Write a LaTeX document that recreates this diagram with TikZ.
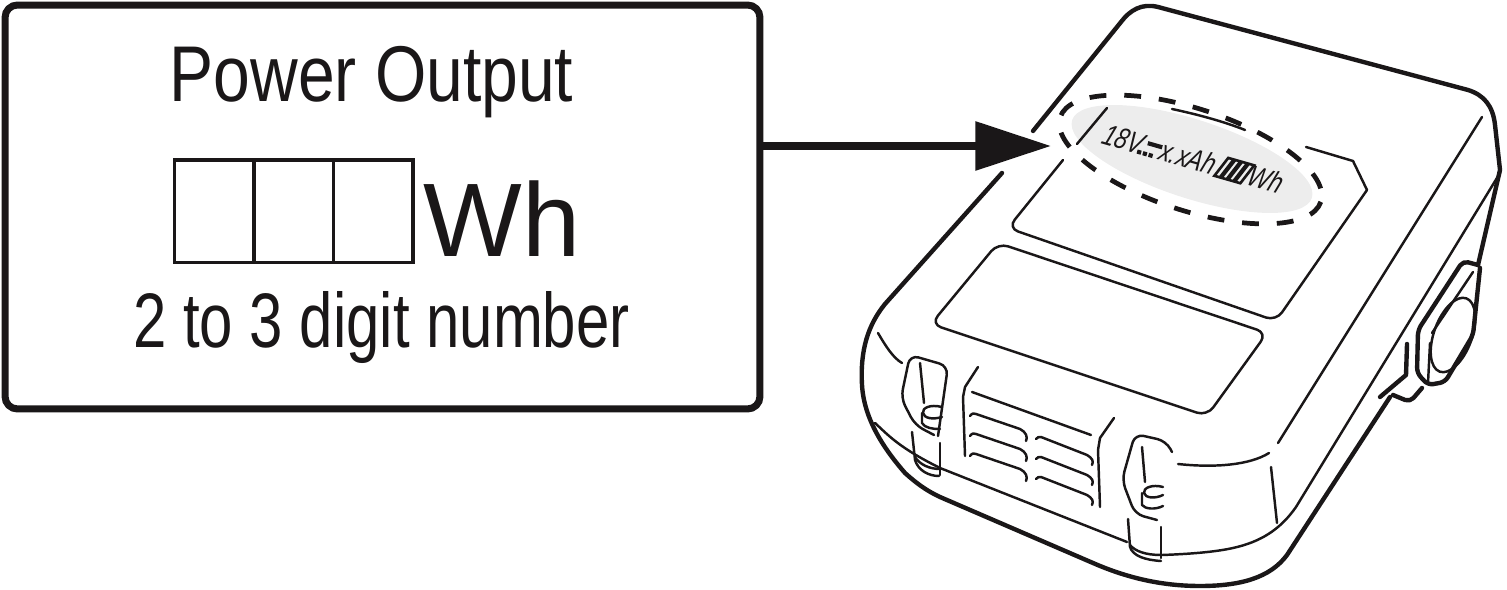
\documentclass[tikz,border=0pt]{standalone}
\usepackage{fontspec}
\setmainfont{Liberation Sans}
\newfontfamily\powerfont[FakeStretch=0.835]{Liberation Sans}
\newfontfamily\digitfont[FakeStretch=0.775]{Liberation Sans}
\newfontfamily\ratingfont[FakeStretch=0.76]{Liberation Sans}
\usetikzlibrary{arrows.meta}
\definecolor{inkblack}{HTML}{1A1718}
\tikzset{
	batteryedge/.style={line width=2.5pt, line join=round, line cap=round},
	batteryline/.style={line width=1.4pt, line join=round, line cap=round},
	ratingtext/.style={anchor=base west, inner sep=0pt, xslant=0.12, transform shape, font=\fontsize{17}{17}\ratingfont\itshape},
}
\begin{document}
\begin{tikzpicture}[x=0.02cm, y=-0.02cm, color=inkblack]
	\useasboundingbox (0, 0) rectangle (1507, 590);

	%%%%% LABEL BOX %%%%%
	\node[draw, line width=4pt, rounded corners=7pt, minimum width=15.1cm, minimum height=8.08cm, inner sep=0pt] (outputbox) at (382.5, 207) {};
	\node[font=\fontsize{45}{45}\powerfont, inner sep=0pt, anchor=base] (powertitle) at (371.5, 102) {Power Output};
	\foreach \cellx/\cellname in {173/cella, 252.5/cellb, 332/cellc}
		\node[draw, line width=1.8pt, minimum width=1.59cm, minimum height=2.05cm, inner sep=0pt, anchor=north west] (\cellname) at (\cellx, 158.5) {};
	\node[font=\fontsize{59.5}{59.5}\selectfont, inner sep=0pt, anchor=base west] (whunit) at (423, 257) {Wh};
	\node[font=\fontsize{44}{44}\digitfont, inner sep=0pt, anchor=base] (digitnote) at (381.5, 348) {2 to 3 digit number};

	%%%%% MARKING OVAL %%%%%
	\fill[black!7, rotate around={-18:(1192, 159)}] (1192, 159) ellipse [x radius=126, y radius=39.3];
	\draw[line width=2.7pt, dash pattern=on 9.6pt off 10.2pt, rotate around={-18:(1190.5, 159.5)}] (1190.5, 159.5) ellipse [x radius=137, y radius=51];

	%%%%% CASE %%%%%
	\draw[batteryedge] (1033, 131) -- (1121, 22) .. controls (1130, 10) and (1142, 3) .. (1158, 7) -- (1468, 90) .. controls (1484, 95) and (1493, 106) .. (1495, 125) -- (1500, 170) -- (1478, 265);
	\draw[batteryedge] (1002, 173) -- (885, 304) .. controls (868, 325) and (860, 350) .. (862, 385) .. controls (864, 420) and (885, 450) .. (905, 473) .. controls (915, 482) and (925, 490) .. (940, 497) -- (1093, 563) .. controls (1125, 577) and (1160, 586) .. (1200, 586) .. controls (1240, 586) and (1270, 578) .. (1287, 555) -- (1390, 397);

	%%%%% PANELS %%%%%
	\draw[batteryline] (1107, 108) -- (1077, 144);
	\draw[batteryline, rounded corners=6pt] (1063, 160) -- (1008, 228) -- (1276, 321) -- (1367, 190);
	\draw[batteryline] (1367, 190) -- (1353, 161) -- (1306, 147);
	\draw[batteryline] (1172, 109) .. controls (1200, 115) and (1225, 122) .. (1245, 130);
	\draw[batteryline, rounded corners=6pt] (998, 243) -- (931, 324) -- (1207, 416) -- (1267, 333) -- cycle;
	\draw[batteryline] (1482, 117) -- (1278, 443);
	\draw[batteryline] (1500, 173) -- (1296, 507) .. controls (1280, 530) and (1260, 542) .. (1233, 548) .. controls (1215, 552) and (1190, 554) .. (1162, 555);
	\draw[batteryline] (1178, 464) .. controls (1215, 468) and (1250, 465) .. (1269, 453);
	\draw[batteryline] (1271, 467) -- (1277, 523);
	\draw[batteryline] (875, 423) .. controls (890, 437) and (900, 448) .. (940, 468) -- (1127, 542);

	%%%%% SIDE KNOB %%%%%
	\draw[batteryedge, rounded corners=3pt] (1478, 265) -- (1463, 261) -- (1418, 330) -- (1417, 373) -- (1428, 385) -- (1445, 382) -- (1473, 335) -- (1480, 268);
	\draw[batteryline, rotate around={70:(1453, 335)}] (1453, 335) ellipse [x radius=39, y radius=19];
	\draw[batteryline] (1473, 272) -- (1432, 333);
	\draw[batteryline] (1430, 343) -- (1428, 383);
	\draw[batteryedge] (1407, 344) -- (1406, 375) -- (1380, 397);
	\draw[batteryedge, rounded corners=3pt] (1393, 395) -- (1410, 402) -- (1422, 388);

	%%%%% LEFT LATCH %%%%%
	\draw[batteryline] (878, 333) .. controls (885, 345) and (893, 358) .. (902, 363);
	\draw[batteryline, rounded corners=5pt] (934, 435) -- (915, 425) -- (901, 398) -- (910, 355) -- (948, 366) -- (938, 436);
	\draw[batteryline] (920, 363) -- (924, 403);
	\draw[batteryline] (942, 407) .. controls (930, 404) and (922, 408) .. (923, 413) .. controls (924, 418) and (932, 420) .. (942, 417);
	\draw[batteryline] (922, 413) -- (922, 423) .. controls (925, 428) and (932, 429) .. (940, 429);
	\draw[batteryline] (912, 432) -- (915, 460) .. controls (918, 470) and (928, 476) .. (939, 476);
	\draw[batteryline] (915, 457) .. controls (920, 465) and (930, 469) .. (940, 469);
	\draw[batteryline] (940, 443) -- (940, 475);

	%%%%% RIGHT LATCH %%%%%
	\draw[batteryline, rounded corners=5pt] (1172, 452) -- (1166, 441) -- (1135, 434) -- (1122, 480) -- (1135, 514) -- (1157, 520);
	\draw[batteryline] (1142, 447) -- (1145, 482);
	\draw[batteryline] (1163, 487) .. controls (1152, 484) and (1143, 488) .. (1144, 493) .. controls (1145, 498) and (1155, 499) .. (1163, 495);
	\draw[batteryline] (1142, 493) -- (1142, 505) .. controls (1145, 509) and (1155, 510) .. (1163, 506);
	\draw[batteryline] (1128, 519) -- (1130, 547) .. controls (1133, 556) and (1145, 560) .. (1161, 561);
	\draw[batteryline] (1130, 545) .. controls (1135, 551) and (1145, 555) .. (1161, 555);
	\draw[batteryline] (1161, 527) -- (1161, 558);

	%%%%% GRILLE %%%%%
	\draw[batteryline] (978, 367) -- (965, 387) -- (963, 397) -- (965, 456);
	\draw[batteryline] (1114, 418) -- (1100, 438) -- (1098, 450) -- (1100, 507);
	\draw[batteryline] (972, 392) -- (1091, 435);
	\foreach \sloty in {0, 20, 40} {
		\draw[batteryline] (970, 416+\sloty) .. controls (972, 413+\sloty) and (974, 413+\sloty) .. (976, 414+\sloty) -- (1020, 429+\sloty) .. controls (1026, 432+\sloty) and (1028, 437+\sloty) .. (1026, 441+\sloty);
		\draw[batteryline] (1036, 439+\sloty) .. controls (1037, 437+\sloty) and (1039, 437+\sloty) .. (1041, 437+\sloty) -- (1087, 455+\sloty) .. controls (1092, 458+\sloty) and (1094, 461+\sloty) .. (1092, 465+\sloty);
	}

	%%%%% RATING TEXT %%%%%
	\begin{scope}[shift={(1100, 143)}, rotate=-16]
		\node[ratingtext] (ratingvolt) at (0, 0) {18V};
		\draw[line width=2.4pt] (46, -13) -- (61, -13);
		\draw[line width=2.4pt, dash pattern=on 2.4pt off 1pt] (38, -2) -- (55, -2);
		\node[ratingtext] (ratingah) at (59, 0) {x.xAh};
		\draw[line width=1.5pt, xslant=0.4] (119, 0) rectangle (146, -21);
		\foreach \slatx in {125.5, 132.5, 139.5}
			\draw[line width=2.4pt, xslant=0.4] (\slatx, 0) -- (\slatx, -21);
		\node[ratingtext] (ratingwh) at (151, 0) {Wh};
	\end{scope}

	%%%%% ARROW %%%%%
	\coordinate (arrowtip) at (1051, 146);
	\draw[line width=4.4pt, -{Triangle[length=43pt, width=27pt]}] (outputbox.east |- arrowtip) -- (arrowtip);
\end{tikzpicture}
\end{document}
